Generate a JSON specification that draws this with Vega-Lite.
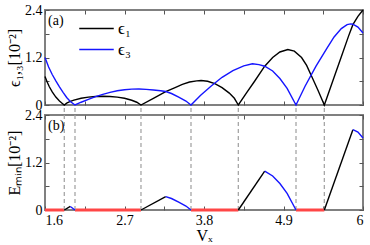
{
  "$schema": "https://vega.github.io/schema/vega-lite/v6.json",
  "padding": {"left": 5, "top": 2, "right": 4, "bottom": 2},
  "bounds": "flush",
  "spacing": 10,
  "config": {
    "font": "Liberation Serif",
    "view": {"stroke": "#808080", "strokeWidth": 2},
    "axis": {
      "domain": false, "grid": false, "tickColor": "#555", "tickSize": -4, "tickWidth": 1,
      "labelFont": "Liberation Serif", "labelFontSize": 14, "labelColor": "#000", "labelPadding": 7,
      "titleFont": "Liberation Serif", "titleFontSize": 16, "titleFontWeight": "normal", "titleColor": "#000", "titlePadding": 2
    }
  },
  "datasets": {
    "eps": [
      {"x": 1.6, "y": 0.72, "s": "ϵ₁"}, {"x": 1.63, "y": 0.58, "s": "ϵ₁"}, {"x": 1.66, "y": 0.46, "s": "ϵ₁"}, {"x": 1.7, "y": 0.33, "s": "ϵ₁"}, {"x": 1.75, "y": 0.2, "s": "ϵ₁"}, {"x": 1.8, "y": 0.1, "s": "ϵ₁"}, {"x": 1.84, "y": 0.04, "s": "ϵ₁"}, {"x": 1.867, "y": 0, "s": "ϵ₁"},
      {"x": 1.9, "y": 0.045, "s": "ϵ₁"}, {"x": 1.95, "y": 0.09, "s": "ϵ₁"}, {"x": 2.0, "y": 0.125, "s": "ϵ₁"}, {"x": 2.1, "y": 0.17, "s": "ϵ₁"}, {"x": 2.2, "y": 0.2, "s": "ϵ₁"}, {"x": 2.3, "y": 0.215, "s": "ϵ₁"}, {"x": 2.4, "y": 0.22, "s": "ϵ₁"}, {"x": 2.5, "y": 0.215, "s": "ϵ₁"}, {"x": 2.6, "y": 0.2, "s": "ϵ₁"}, {"x": 2.7, "y": 0.17, "s": "ϵ₁"}, {"x": 2.8, "y": 0.12, "s": "ϵ₁"}, {"x": 2.87, "y": 0.07, "s": "ϵ₁"}, {"x": 2.928, "y": 0, "s": "ϵ₁"},
      {"x": 3.1, "y": 0.17, "s": "ϵ₁"}, {"x": 3.27, "y": 0.34, "s": "ϵ₁"}, {"x": 3.4, "y": 0.44, "s": "ϵ₁"}, {"x": 3.5, "y": 0.52, "s": "ϵ₁"}, {"x": 3.6, "y": 0.58, "s": "ϵ₁"}, {"x": 3.7, "y": 0.61, "s": "ϵ₁"}, {"x": 3.76, "y": 0.62, "s": "ϵ₁"}, {"x": 3.85, "y": 0.6, "s": "ϵ₁"}, {"x": 3.95, "y": 0.54, "s": "ϵ₁"}, {"x": 4.05, "y": 0.44, "s": "ϵ₁"}, {"x": 4.15, "y": 0.3, "s": "ϵ₁"}, {"x": 4.22, "y": 0.17, "s": "ϵ₁"}, {"x": 4.275, "y": 0, "s": "ϵ₁"},
      {"x": 4.4, "y": 0.34, "s": "ϵ₁"}, {"x": 4.5, "y": 0.6, "s": "ϵ₁"}, {"x": 4.64, "y": 0.98, "s": "ϵ₁"}, {"x": 4.75, "y": 1.2, "s": "ϵ₁"}, {"x": 4.85, "y": 1.34, "s": "ϵ₁"}, {"x": 4.96, "y": 1.4, "s": "ϵ₁"}, {"x": 5.05, "y": 1.36, "s": "ϵ₁"}, {"x": 5.15, "y": 1.2, "s": "ϵ₁"}, {"x": 5.22, "y": 1.0, "s": "ϵ₁"}, {"x": 5.3, "y": 0.68, "s": "ϵ₁"}, {"x": 5.38, "y": 0.36, "s": "ϵ₁"}, {"x": 5.465, "y": 0, "s": "ϵ₁"},
      {"x": 5.6, "y": 0.7, "s": "ϵ₁"}, {"x": 5.7, "y": 1.22, "s": "ϵ₁"}, {"x": 5.8, "y": 1.74, "s": "ϵ₁"}, {"x": 5.86, "y": 2.03, "s": "ϵ₁"}, {"x": 5.93, "y": 2.24, "s": "ϵ₁"}, {"x": 6.0, "y": 2.4, "s": "ϵ₁"},
      {"x": 1.6, "y": 1.2, "s": "ϵ₃"}, {"x": 1.65, "y": 0.96, "s": "ϵ₃"}, {"x": 1.7, "y": 0.77, "s": "ϵ₃"}, {"x": 1.75, "y": 0.61, "s": "ϵ₃"}, {"x": 1.8, "y": 0.46, "s": "ϵ₃"}, {"x": 1.85, "y": 0.32, "s": "ϵ₃"}, {"x": 1.9, "y": 0.19, "s": "ϵ₃"}, {"x": 1.95, "y": 0.09, "s": "ϵ₃"}, {"x": 2.015, "y": 0, "s": "ϵ₃"},
      {"x": 2.1, "y": 0.07, "s": "ϵ₃"}, {"x": 2.2, "y": 0.14, "s": "ϵ₃"}, {"x": 2.3, "y": 0.21, "s": "ϵ₃"}, {"x": 2.4, "y": 0.27, "s": "ϵ₃"}, {"x": 2.5, "y": 0.32, "s": "ϵ₃"}, {"x": 2.6, "y": 0.36, "s": "ϵ₃"}, {"x": 2.7, "y": 0.385, "s": "ϵ₃"}, {"x": 2.8, "y": 0.4, "s": "ϵ₃"}, {"x": 2.9, "y": 0.405, "s": "ϵ₃"}, {"x": 3.0, "y": 0.395, "s": "ϵ₃"}, {"x": 3.1, "y": 0.38, "s": "ϵ₃"}, {"x": 3.2, "y": 0.36, "s": "ϵ₃"}, {"x": 3.27, "y": 0.34, "s": "ϵ₃"}, {"x": 3.35, "y": 0.29, "s": "ϵ₃"}, {"x": 3.45, "y": 0.2, "s": "ϵ₃"}, {"x": 3.55, "y": 0.1, "s": "ϵ₃"}, {"x": 3.62, "y": 0, "s": "ϵ₃"},
      {"x": 3.75, "y": 0.24, "s": "ϵ₃"}, {"x": 3.9, "y": 0.48, "s": "ϵ₃"}, {"x": 4.05, "y": 0.7, "s": "ϵ₃"}, {"x": 4.2, "y": 0.87, "s": "ϵ₃"}, {"x": 4.35, "y": 0.99, "s": "ϵ₃"}, {"x": 4.47, "y": 1.04, "s": "ϵ₃"}, {"x": 4.56, "y": 1.02, "s": "ϵ₃"}, {"x": 4.64, "y": 0.98, "s": "ϵ₃"}, {"x": 4.75, "y": 0.86, "s": "ϵ₃"}, {"x": 4.85, "y": 0.67, "s": "ϵ₃"}, {"x": 4.95, "y": 0.42, "s": "ϵ₃"}, {"x": 5.073, "y": 0, "s": "ϵ₃"},
      {"x": 5.2, "y": 0.48, "s": "ϵ₃"}, {"x": 5.35, "y": 0.98, "s": "ϵ₃"}, {"x": 5.5, "y": 1.43, "s": "ϵ₃"}, {"x": 5.6, "y": 1.72, "s": "ϵ₃"}, {"x": 5.7, "y": 1.93, "s": "ϵ₃"}, {"x": 5.78, "y": 2.03, "s": "ϵ₃"}, {"x": 5.83, "y": 2.05, "s": "ϵ₃"}, {"x": 5.86, "y": 2.04, "s": "ϵ₃"}, {"x": 5.93, "y": 1.97, "s": "ϵ₃"}, {"x": 6.0, "y": 1.82, "s": "ϵ₃"}
    ],
    "emin": [
      {"x": 1.6, "y": 0, "s": "0", "g": 1}, {"x": 1.867, "y": 0, "s": "0", "g": 1},
      {"x": 1.867, "y": 0, "s": "ϵ₁", "g": 2}, {"x": 1.95, "y": 0.09, "s": "ϵ₁", "g": 2},
      {"x": 1.95, "y": 0.09, "s": "ϵ₃", "g": 3}, {"x": 2.015, "y": 0, "s": "ϵ₃", "g": 3},
      {"x": 2.015, "y": 0, "s": "0", "g": 4}, {"x": 2.928, "y": 0, "s": "0", "g": 4},
      {"x": 2.928, "y": 0, "s": "ϵ₁", "g": 5}, {"x": 3.27, "y": 0.34, "s": "ϵ₁", "g": 5},
      {"x": 3.27, "y": 0.34, "s": "ϵ₃", "g": 6}, {"x": 3.35, "y": 0.29, "s": "ϵ₃", "g": 6}, {"x": 3.45, "y": 0.2, "s": "ϵ₃", "g": 6}, {"x": 3.55, "y": 0.1, "s": "ϵ₃", "g": 6}, {"x": 3.62, "y": 0, "s": "ϵ₃", "g": 6},
      {"x": 3.62, "y": 0, "s": "0", "g": 7}, {"x": 4.275, "y": 0, "s": "0", "g": 7},
      {"x": 4.275, "y": 0, "s": "ϵ₁", "g": 8}, {"x": 4.64, "y": 0.98, "s": "ϵ₁", "g": 8},
      {"x": 4.64, "y": 0.98, "s": "ϵ₃", "g": 9}, {"x": 4.75, "y": 0.86, "s": "ϵ₃", "g": 9}, {"x": 4.85, "y": 0.67, "s": "ϵ₃", "g": 9}, {"x": 4.95, "y": 0.42, "s": "ϵ₃", "g": 9}, {"x": 5.073, "y": 0, "s": "ϵ₃", "g": 9},
      {"x": 5.073, "y": 0, "s": "0", "g": 10}, {"x": 5.465, "y": 0, "s": "0", "g": 10},
      {"x": 5.465, "y": 0, "s": "ϵ₁", "g": 11}, {"x": 5.86, "y": 2.03, "s": "ϵ₁", "g": 11},
      {"x": 5.86, "y": 2.03, "s": "ϵ₃", "g": 12}, {"x": 5.93, "y": 1.97, "s": "ϵ₃", "g": 12}, {"x": 6.0, "y": 1.82, "s": "ϵ₃", "g": 12}
    ],
    "zeros": [
      {"x": 1.867}, {"x": 2.015}, {"x": 2.928}, {"x": 3.62}, {"x": 4.275}, {"x": 5.073}, {"x": 5.465}
    ],
    "labA": [{"x": 1.6, "y": 2.4, "t": "(a)"}],
    "labB": [{"x": 1.6, "y": 2.4, "t": "(b)"}]
  },
  "vconcat": [
    {
      "width": 318, "height": 95,
      "layer": [
        {
          "data": {"name": "eps"},
          "mark": {"type": "line", "strokeWidth": 1.4},
          "encoding": {
            "x": {"field": "x", "type": "quantitative", "scale": {"domain": [1.6, 6], "nice": false, "zero": false},
                  "axis": {"orient": "bottom", "values": [1.6, 2.15, 2.7, 3.25, 3.8, 4.35, 4.9, 5.45, 6], "labels": false, "title": null}},
            "y": {"field": "y", "type": "quantitative", "scale": {"domain": [0, 2.4], "nice": false},
                  "axis": {"orient": "left", "values": [0, 0.6, 1.2, 1.8, 2.4], "format": "~g", "labelExpr": "indexof([0, 1.2, 2.4], datum.value) >= 0 ? datum.label : ''", "title": "ϵ₁,₃[10⁻²]"}},
            "color": {"field": "s", "type": "nominal", "scale": {"domain": ["ϵ₁", "ϵ₃"], "range": ["#000000", "#1515ff"]},
                      "legend": {"orient": "none", "legendX": 39, "legendY": 6, "title": null, "symbolType": "M-1.5,0H1.5", "symbolSize": 529, "symbolStrokeWidth": 1.4, "symbolFillColor": "transparent", "labelFontSize": 17, "labelFont": "Liberation Serif", "labelOffset": 9, "rowPadding": 0, "padding": 0}}
          }
        },
        {
          "data": {"name": "labA"},
          "mark": {"type": "text", "align": "left", "baseline": "top", "dx": 3, "dy": 4, "fontSize": 14, "font": "Liberation Serif"},
          "encoding": {
            "x": {"field": "x", "type": "quantitative", "scale": {"domain": [1.6, 6], "nice": false, "zero": false},
                  "axis": {"orient": "top", "values": [1.6, 2.15, 2.7, 3.25, 3.8, 4.35, 4.9, 5.45, 6], "labels": false, "title": null}},
            "y": {"field": "y", "type": "quantitative", "scale": {"domain": [0, 2.4], "nice": false},
                  "axis": {"orient": "right", "values": [0, 0.6, 1.2, 1.8, 2.4], "labels": false, "title": null}},
            "text": {"field": "t"}
          }
        }
      ],
      "resolve": {"axis": {"x": "independent", "y": "independent"}}
    },
    {
      "width": 318, "height": 95,
      "layer": [
        {
          "data": {"name": "emin"},
          "transform": [{"filter": "datum.s === '0'"}],
          "mark": {"type": "line", "color": "#ff4646", "strokeWidth": 3},
          "encoding": {
            "x": {"field": "x", "type": "quantitative", "scale": {"domain": [1.6, 6], "nice": false, "zero": false},
                  "axis": {"orient": "bottom", "values": [1.6, 2.15, 2.7, 3.25, 3.8, 4.35, 4.9, 5.45, 6], "format": "~g", "labelExpr": "indexof([1.6, 2.7, 3.8, 4.9, 6], datum.value) >= 0 ? datum.label : ''", "title": "Vₓ", "titlePadding": 0}},
            "y": {"field": "y", "type": "quantitative", "scale": {"domain": [0, 2.4], "nice": false},
                  "axis": {"orient": "left", "values": [0, 0.6, 1.2, 1.8, 2.4], "format": "~g", "labelExpr": "indexof([0, 1.2, 2.4], datum.value) >= 0 ? datum.label : ''", "title": "Eₘᵢₙ[10⁻²]"}},
            "detail": {"field": "g", "type": "nominal"}
          }
        },
        {
          "data": {"name": "zeros"},
          "mark": {"type": "rule", "strokeDash": [4, 3], "color": "#a6a6a6", "strokeWidth": 1.3, "clip": false},
          "encoding": {
            "x": {"field": "x", "type": "quantitative", "scale": {"domain": [1.6, 6], "nice": false, "zero": false}, "axis": null},
            "y": {"datum": 0, "type": "quantitative", "scale": {"domain": [0, 2.4], "nice": false}, "axis": null},
            "y2": {"datum": 2.65}
          }
        },
        {
          "data": {"name": "emin"},
          "transform": [{"filter": "datum.s === 'ϵ₁'"}],
          "mark": {"type": "line", "color": "#000000", "strokeWidth": 1.4},
          "encoding": {
            "x": {"field": "x", "type": "quantitative", "scale": {"domain": [1.6, 6], "nice": false, "zero": false}, "axis": null},
            "y": {"field": "y", "type": "quantitative", "scale": {"domain": [0, 2.4], "nice": false}, "axis": null},
            "detail": {"field": "g", "type": "nominal"}
          }
        },
        {
          "data": {"name": "emin"},
          "transform": [{"filter": "datum.s === 'ϵ₃'"}],
          "mark": {"type": "line", "color": "#1515ff", "strokeWidth": 1.4},
          "encoding": {
            "x": {"field": "x", "type": "quantitative", "scale": {"domain": [1.6, 6], "nice": false, "zero": false}, "axis": null},
            "y": {"field": "y", "type": "quantitative", "scale": {"domain": [0, 2.4], "nice": false}, "axis": null},
            "detail": {"field": "g", "type": "nominal"}
          }
        },
        {
          "data": {"name": "labB"},
          "mark": {"type": "text", "align": "left", "baseline": "top", "dx": 3, "dy": 4, "fontSize": 14, "font": "Liberation Serif"},
          "encoding": {
            "x": {"field": "x", "type": "quantitative", "scale": {"domain": [1.6, 6], "nice": false, "zero": false},
                  "axis": {"orient": "top", "values": [1.6, 2.15, 2.7, 3.25, 3.8, 4.35, 4.9, 5.45, 6], "labels": false, "title": null}},
            "y": {"field": "y", "type": "quantitative", "scale": {"domain": [0, 2.4], "nice": false},
                  "axis": {"orient": "right", "values": [0, 0.6, 1.2, 1.8, 2.4], "labels": false, "title": null}},
            "text": {"field": "t"}
          }
        }
      ],
      "resolve": {"axis": {"x": "independent", "y": "independent"}}
    }
  ]
}
